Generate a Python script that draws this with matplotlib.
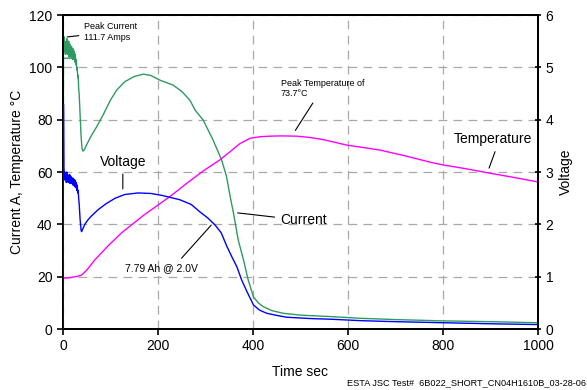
import matplotlib
matplotlib.use("Agg")
import matplotlib.pyplot as plt

plt.rcParams["font.family"] = ["Liberation Sans", "DejaVu Sans"]

# Current (A) vs time (s)
cur_t = [0, 1, 20, 1.5, 2, 3, 4, 5, 6, 7, 8, 9, 10, 11, 12, 13, 14, 15, 16, 17, 18,
         19, 20, 21, 22, 23, 24, 25, 26, 27, 28, 29, 30, 31, 32, 33, 34, 35, 36, 37,
         38, 40, 42, 45, 50, 60, 71, 85, 100, 113, 130, 150, 169, 185, 204, 232, 250,
         267, 278, 295, 316, 334, 344, 352, 359, 369, 380, 390, 401, 411, 422, 440,
         464, 500, 569, 625, 700, 800, 900, 1000]
cur_v = [0, 103.5, 103.5, 110, 111.7, 106, 110, 105, 109, 107, 111, 105, 109, 106,
         110, 104, 109, 106, 108, 104, 108, 105, 107, 103, 107, 104, 106, 102, 105,
         101, 103, 99, 100, 96, 97, 92, 90, 86, 82, 78, 74, 69, 68, 68.5, 70.5, 74,
         77.3, 82, 87.5, 91.3, 94.5, 96.5, 97.4, 96.9, 95.1, 93.2, 90.8, 87.5, 83.7,
         79.9, 72.2, 64.6, 58.5, 50.6, 44.2, 34, 26.4, 18.7, 12.3, 10, 8.5, 7.0,
         6.0, 5.3, 4.7, 4.1, 3.6, 3.1, 2.8, 2.4]

# Voltage (V) vs time (s)
volt_t = [0, 1, 2, 3, 4, 5, 6, 7, 8, 9, 10, 11, 12, 13, 14, 15, 16, 17, 18, 19, 20,
          21, 22, 23, 24, 25, 26, 27, 28, 29, 30, 31, 32, 33, 34, 35, 36, 37, 38, 39,
          42, 46, 52, 60, 74, 90, 110, 130, 158, 185, 210, 246, 270, 288, 305, 320,
          333, 345, 356, 366, 376, 387, 401, 414, 429, 450, 471, 520, 569, 625, 700,
          800, 900, 1000]
volt_v = [0, 4.3, 3.1, 2.85, 3.0, 2.9, 2.95, 2.8, 3.0, 2.85, 2.95, 2.8, 2.9, 2.85,
          2.95, 2.78, 2.92, 2.8, 2.9, 2.78, 2.88, 2.75, 2.88, 2.74, 2.85, 2.72, 2.84,
          2.7, 2.8, 2.65, 2.75, 2.6, 2.65, 2.5, 2.4, 2.25, 2.1, 2.0, 1.9, 1.86, 1.92,
          2.0, 2.08, 2.16, 2.28, 2.39, 2.5, 2.57, 2.6, 2.59, 2.55, 2.47, 2.38, 2.24,
          2.12, 1.99, 1.84, 1.58, 1.37, 1.19, 0.94, 0.72, 0.46, 0.36, 0.3, 0.26, 0.225,
          0.2, 0.185, 0.16, 0.14, 0.12, 0.1, 0.085]

# Temperature (deg C) vs time (s)
temp_t = [0, 10, 20, 30, 39, 50, 67, 95, 123, 170, 225, 270, 300, 330, 352, 372,
          394, 415, 436, 460, 492, 520, 550, 597, 667, 720, 772, 800, 850, 900,
          950, 1000]
temp_v = [19.5, 19.5, 19.8, 20.1, 20.6, 22.5, 26.4, 31.8, 36.7, 43.5, 50.6, 57,
          61, 64.6, 67.8, 70.8, 72.9, 73.5, 73.7, 73.8, 73.7, 73.2, 72.3, 70.3,
          68.4, 66.2, 63.8, 62.7, 61.2, 59.5, 57.9, 56.2]

fig = plt.figure(figsize=(5.87, 3.90), dpi=100)
ax = fig.add_axes([0.1073, 0.1564, 0.8092, 0.8051])
ax2 = ax.twinx()

ax.plot(cur_t, cur_v, color="#2e9a62", linewidth=1.0, zorder=3)
ax.plot(temp_t, temp_v, color="#ff00ff", linewidth=1.0, zorder=3)
ax2.plot(volt_t, volt_v, color="#0000ff", linewidth=1.0, zorder=3)

ax.set_xlim(0, 1000)
ax.set_ylim(0, 120)
ax2.set_ylim(0, 6)
ax.set_xticks(range(0, 1001, 200))
ax.set_yticks(range(0, 121, 20))
ax2.set_yticks(range(0, 7))

ax.grid(True, color="#a8a8a8", linestyle=(0, (7, 5)), linewidth=0.9)
for sp in ["left", "right", "bottom", "top"]:
    ax.spines[sp].set_linewidth(1.4)
    ax2.spines[sp].set_linewidth(1.4)
ax.tick_params(labelsize=10, length=4, width=1.2)
ax2.tick_params(labelsize=10, length=4, width=1.2, direction="inout")

ax.set_xlabel("Time sec", fontsize=10, labelpad=8)
ax.set_ylabel("Current A, Temperature °C", fontsize=10)
ax2.set_ylabel("Voltage", fontsize=10)

# callouts
ax.annotate("Peak Current\n111.7 Amps", xy=(3, 111.5), xytext=(45, 113.5),
            fontsize=6.5, va="center", ha="left",
            arrowprops=dict(arrowstyle="-", color="black", lw=0.8))
ax.annotate("Voltage", xy=(126, 52.5), xytext=(126, 64),
            fontsize=10, va="center", ha="center",
            arrowprops=dict(arrowstyle="-", color="black", lw=0.8))
ax.annotate("Peak Temperature of\n73.7°C", xy=(486, 75), xytext=(458, 92),
            fontsize=6.5, va="center", ha="left",
            arrowprops=dict(arrowstyle="-", color="black", lw=0.8))
ax.annotate("Temperature", xy=(895, 60.5), xytext=(823, 72.5),
            fontsize=10, va="center", ha="left",
            arrowprops=dict(arrowstyle="-", color="black", lw=0.8,
                            relpos=(0.55, 0)))
ax.annotate("Current", xy=(362, 44.5), xytext=(457, 41.5),
            fontsize=10, va="center", ha="left",
            arrowprops=dict(arrowstyle="-", color="black", lw=0.8))
ax.annotate("7.79 Ah @ 2.0V", xy=(316, 40.5), xytext=(130, 23.3),
            fontsize=7.5, va="center", ha="left",
            arrowprops=dict(arrowstyle="-", color="black", lw=0.8,
                            relpos=(0.72, 1)))

fig.text(0.999, 0.008, "ESTA JSC Test#  6B022_SHORT_CN04H1610B_03-28-06",
         fontsize=6.6, ha="right", va="bottom")

plt.savefig("out.png", dpi=100)
plt.close()
